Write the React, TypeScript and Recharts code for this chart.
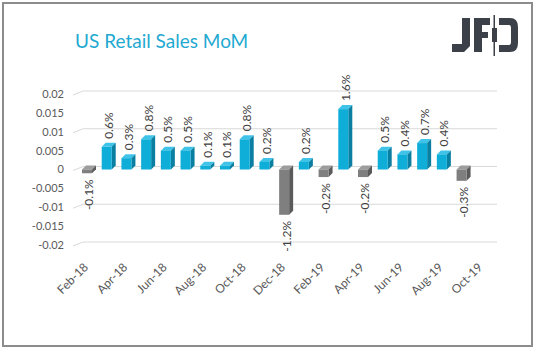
import { BarChart, Bar, XAxis, YAxis, CartesianGrid, LabelList } from "recharts";

const months = [
  "Feb-18", "Mar-18", "Apr-18", "May-18", "Jun-18", "Jul-18", "Aug-18",
  "Sep-18", "Oct-18", "Nov-18", "Dec-18", "Jan-19", "Feb-19", "Mar-19",
  "Apr-19", "May-19", "Jun-19", "Jul-19", "Aug-19", "Sep-19", "Oct-19",
];
const values = [
  -0.001, 0.006, 0.003, 0.008, 0.005, 0.005, 0.001,
  0.001, 0.008, 0.002, -0.012, 0.002, -0.002, 0.016,
  -0.002, 0.005, 0.004, 0.007, 0.004, -0.003, null,
];
const yTicks = [-0.02, -0.015, -0.01, -0.005, 0, 0.005, 0.01, 0.015, 0.02];

const data = months.map((m, i) => ({ month: m, value: values[i] }));

const DEPTH = 4;
const GRID = "#d9d9d9";
const TEXT = "#595959";
const FONT = "Lato, 'Liberation Sans', sans-serif";

const Bar3D = (props: any) => {
  const { x, y, width, height, value } = props;
  if (value == null) return null;
  const d = DEPTH;
  const top = Math.min(y, y + height);
  const h = Math.abs(height);
  const w = width - d;
  const neg = value < 0;
  const front = neg ? "#7f7f7f" : "#0eaed8";
  const side = neg ? "#5a5a5a" : "#0a7fa1";
  const cap = neg ? "#9c9c9c" : "#3fc3e8";
  return (
    <g>
      <polygon points={`${x},${top} ${x + d},${top - d} ${x + w + d},${top - d} ${x + w},${top}`} fill={cap} />
      <polygon points={`${x + w},${top} ${x + w + d},${top - d} ${x + w + d},${top + h - d} ${x + w},${top + h}`} fill={side} />
      <rect x={x} y={top} width={w} height={h} fill={front} />
    </g>
  );
};

const renderLabel = (props: any) => {
  const { x, y, width, height, value } = props;
  if (value == null) return null;
  const cx = x + width / 2;
  const top = Math.min(y, y + height);
  const bottom = top + Math.abs(height);
  const neg = value < 0;
  const ay = neg ? bottom + 6 : top - DEPTH - 4;
  return (
    <text
      x={cx}
      y={ay}
      transform={`rotate(-90 ${cx} ${ay})`}
      textAnchor={neg ? "end" : "start"}
      dominantBaseline="central"
      fontSize={12}
      fontFamily={FONT}
      fill="#404040"
    >
      {(value * 100).toFixed(1)}%
    </text>
  );
};

const gridLine = (props: any) => {
  const { x1, x2, y1, index } = props;
  return (
    <g key={`g-${index}`}>
      <line x1={x1 - 6} y1={y1 + 1} x2={x1 + 4} y2={y1 - 3} stroke={GRID} />
      <line x1={x1 + 4} y1={y1 - 3} x2={x2 + 4} y2={y1 - 3} stroke={GRID} />
    </g>
  );
};

const MonthTick = (props: any) => {
  const { x, y, payload } = props;
  return (
    <text
      transform={`translate(${x},${y + 15}) rotate(-45)`}
      textAnchor="end"
      fontSize={12}
      fontFamily={FONT}
      fill={TEXT}
    >
      {payload.value}
    </text>
  );
};

const Logo = () => (
  <svg width={537} height={351} style={{ position: "absolute", left: 0, top: 0 }}>
    <g fill="#3b4049">
      <polygon points="462,18 470,18 470,46 464,52 452,52 452,44 462,44" />
      <rect x={474} y={18} width={8} height={34} />
      <rect x={474} y={18} width={16} height={7} />
      <rect x={474} y={32} width={14} height={6} />
      <rect x={493.5} y={15} width={1.5} height={41} />
      <rect x={492} y={28} width={5} height={14} />
      <path d="M499,18 H510 Q518,18 518,27 V43 Q518,52 510,52 H499 V45 H509 Q511,45 511,42 V28 Q511,25 509,25 H499 Z" />
    </g>
  </svg>
);

export default function App() {
  return (
    <div style={{ position: "absolute", left: 0, top: 0, width: 537, height: 351, background: "#fff" }}>
      <div
        style={{
          position: "absolute",
          left: 2,
          top: 2,
          width: 531,
          height: 345,
          border: "2px solid #8c8c8c",
          boxSizing: "border-box",
        }}
      />
      <div
        style={{
          position: "absolute",
          left: 75,
          top: 29,
          fontFamily: FONT,
          fontSize: 19,
          color: "#1fa9d1",
          whiteSpace: "nowrap",
        }}
      >
        US Retail Sales MoM
      </div>
      <Logo />
      <div style={{ position: "absolute", left: 0, top: 0 }}>
        <BarChart
          width={537}
          height={351}
          data={data}
          margin={{ top: 94, right: 44, bottom: 46, left: 19 }}
          barCategoryGap={0}
        >
          <CartesianGrid vertical={false} horizontal={gridLine} />
          <XAxis
            dataKey="month"
            interval={1}
            axisLine={false}
            tickLine={false}
            height={60}
            tick={<MonthTick />}
          />
          <YAxis
            domain={[-0.02, 0.02]}
            ticks={yTicks}
            axisLine={false}
            tickLine={false}
            width={60}
            tickSize={6}
            tickMargin={9}
            tick={{ fill: TEXT, fontSize: 11, fontFamily: FONT }}
          />
          <Bar dataKey="value" barSize={14} shape={<Bar3D />} isAnimationActive={false}>
            <LabelList dataKey="value" content={renderLabel} />
          </Bar>
        </BarChart>
      </div>
    </div>
  );
}
